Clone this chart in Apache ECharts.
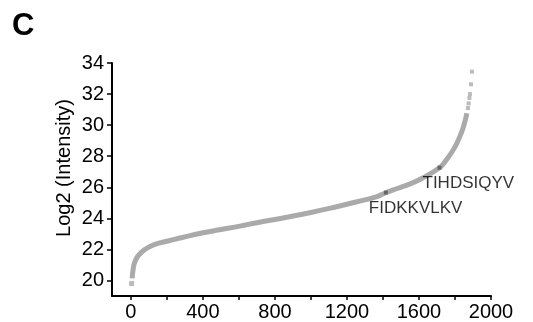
<!DOCTYPE html>
<html><head><meta charset="utf-8">
<script src="https://cdn.jsdelivr.net/npm/echarts@6/dist/echarts.min.js"></script>
<style>html,body{margin:0;padding:0;background:#fff}#c{width:533px;height:322px}</style>
</head><body><div id="c"></div>
<script>
// Sorted peptide intensities (rank, log2 intensity)
const curveX = [7, 13, 22, 41, 78, 133, 207, 291, 402, 500, 606, 700, 865, 1000, 1125, 1250, 1366, 1416, 1480, 1551, 1620, 1714, 1745, 1773, 1800, 1819, 1847, 1866];
const curveY = [20.13, 20.77, 21.2, 21.6, 22.0, 22.33, 22.54, 22.78, 23.07, 23.28, 23.5, 23.72, 24.07, 24.38, 24.7, 25.05, 25.4, 25.65, 25.92, 26.22, 26.6, 27.26, 27.65, 28.1, 28.6, 29.05, 29.9, 30.76];
const tailX = [1872, 1876, 1880, 1883, 1889, 1894];
const tailY = [31.1, 31.4, 31.75, 32.0, 32.63, 33.44];
const firstX = [4];
const firstY = [19.8];
const peptideNames = ['FIDKKVLKV', 'TIHDSIQYV'];
const peptideX = [1416, 1714];
const peptideY = [25.66, 27.26];
const xTickValues = [0, 200, 400, 600, 800, 1000, 1200, 1400, 1600, 1800, 2000];
const xLabelValues = [0, 400, 800, 1200, 1600, 2000];
const yTickValues = [20, 22, 24, 26, 28, 30, 32, 34];
const yTitle = 'Log2 (Intensity)';
const panelLetter = 'C';

const grey = '#aaaaaa';
const font = 'Liberation Sans';
const chart = echarts.init(document.getElementById('c'), null, {renderer: 'canvas'});
chart.setOption({
  animation: false,
  backgroundColor: '#ffffff',
  grid: {left: 112, right: 42, top: 63, bottom: 25, containLabel: false},
  xAxis: {
    type: 'value', min: -105, max: 2000,
    splitLine: {show: false},
    axisLine: {onZero: false, lineStyle: {color: '#000', width: 2}},
    axisTick: {customValues: xTickValues, length: 4, lineStyle: {color: '#000', width: 1.5}},
    axisLabel: {customValues: xLabelValues, formatter: v => String(v), color: '#000', fontSize: 20, fontFamily: font, margin: 6}
  },
  yAxis: {
    type: 'value', min: 19, max: 34,
    splitLine: {show: false},
    axisLine: {onZero: false, lineStyle: {color: '#000', width: 2}},
    axisTick: {customValues: yTickValues, length: 5, lineStyle: {color: '#000', width: 1.5}},
    axisLabel: {customValues: yTickValues, color: '#000', fontSize: 20, fontFamily: font, margin: 8}
  },
  graphic: [
    {type: 'text', left: 12, top: 11, style: {text: panelLetter, font: 'bold 31px "Liberation Sans"', fill: '#000'}},
    {type: 'text', x: 64, y: 168, rotation: Math.PI / 2,
     style: {text: yTitle, font: '20px "Liberation Sans"', fill: '#000', align: 'center', verticalAlign: 'middle'}}
  ],
  series: [
    {type: 'line', data: curveX.map((x, i) => [x, curveY[i]]), smooth: 0.5, showSymbol: false,
     lineStyle: {color: grey, width: 5, cap: 'butt'}, z: 2},
    {type: 'scatter', data: tailX.map((x, i) => [x, tailY[i]]), symbol: 'rect', symbolSize: 4,
     itemStyle: {color: grey}, z: 2},
    {type: 'scatter', data: firstX.map((x, i) => [x, firstY[i]]), symbol: 'rect', symbolSize: 5,
     itemStyle: {color: grey}, z: 2},
    {type: 'scatter', data: peptideX.map((x, i) => ({value: [x, peptideY[i]], name: peptideNames[i]})),
     symbol: 'rect', symbolSize: 4, itemStyle: {color: '#555555'}, z: 3,
     label: {show: true, formatter: '{b}', position: 'bottom', distance: 5, align: 'left', offset: [-17, 0],
             color: '#000', fontSize: 17, fontFamily: font}}
  ]
});
</script></body></html>
